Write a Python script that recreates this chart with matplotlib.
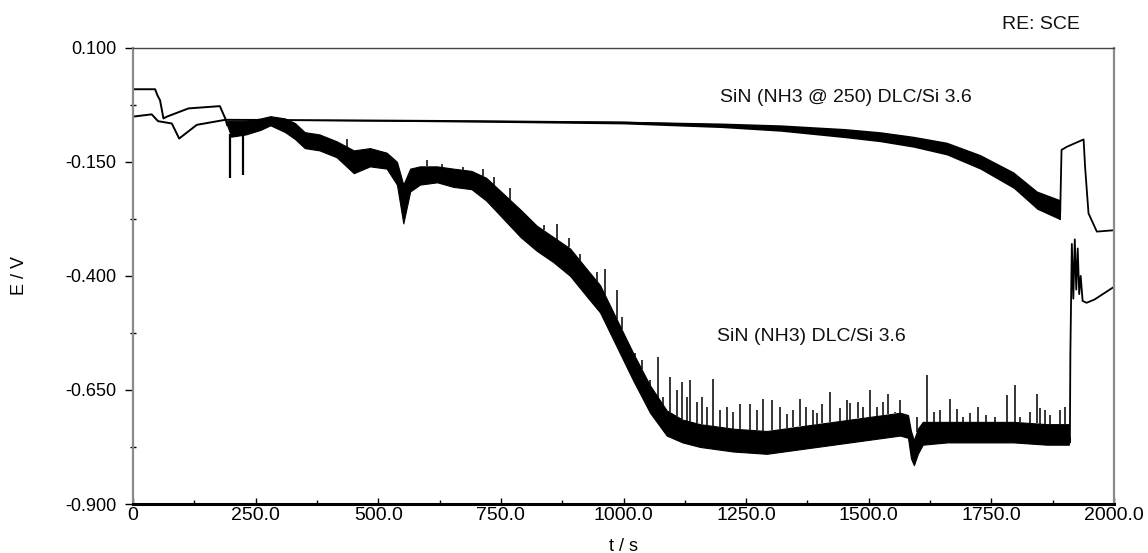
import numpy as np
import matplotlib
matplotlib.use("Agg")
import matplotlib.pyplot as plt

# ---------------- data ----------------
# Series "SiN (NH3 @ 250) DLC/Si 3.6" : centre line and half-width of its noise band
s250_t    = [0, 38, 51, 79, 94, 130, 188, 400, 700, 1000, 1200, 1320, 1450, 1523, 1591, 1659, 1727, 1795, 1843, 1890]
s250_mid  = [-0.051, -0.046, -0.061, -0.066, -0.099, -0.069, -0.058, -0.059, -0.061, -0.064, -0.070, -0.076,
             -0.087, -0.095, -0.106, -0.121, -0.150, -0.190, -0.234, -0.255]
s250_half = [0.0, 0.0, 0.0, 0.0, 0.0, 0.0, 0.0, 0.001, 0.002, 0.003, 0.005, 0.007,
             0.010, 0.011, 0.012, 0.014, 0.016, 0.018, 0.020, 0.022]
# recovery at the end of the run
s250_tail_t = [1890, 1893, 1904, 1938, 1941, 1948, 1965, 2000]
s250_tail_v = [-0.275, -0.124, -0.117, -0.101, -0.161, -0.263, -0.303, -0.300]

# Series "SiN (NH3) DLC/Si 3.6"
nh3_head_t = [0, 45, 50, 55, 62, 69, 113, 177, 188, 192]
nh3_head_v = [0.009, 0.009, -0.005, -0.015, -0.055, -0.051, -0.033, -0.028, -0.055, -0.070]
# dense noise band (bottom / top)
nh3_t  = [192, 200, 230, 260, 280, 310, 330, 350, 380, 415, 450, 483, 517, 538, 551, 565, 585, 620, 653,
          690, 720, 755, 790, 823, 857, 891, 925, 952, 986, 1020, 1054, 1088, 1120, 1156, 1224, 1292,
          1360, 1428, 1496, 1564, 1580, 1586, 1592, 1600, 1610, 1660, 1727, 1795, 1863, 1908]
nh3_hi = [-0.060, -0.060, -0.060, -0.055, -0.050, -0.055, -0.065, -0.085, -0.090, -0.105, -0.125, -0.120,
          -0.130, -0.150, -0.200, -0.165, -0.160, -0.160, -0.165, -0.170, -0.185, -0.220, -0.255, -0.290,
          -0.315, -0.340, -0.385, -0.420, -0.495, -0.570, -0.640, -0.695, -0.715, -0.725, -0.735, -0.740,
          -0.730, -0.720, -0.710, -0.700, -0.705, -0.740, -0.760, -0.735, -0.720, -0.720, -0.720, -0.720,
          -0.725, -0.725]
nh3_lo = [-0.070, -0.095, -0.090, -0.080, -0.070, -0.085, -0.100, -0.120, -0.125, -0.140, -0.175, -0.160,
          -0.165, -0.200, -0.285, -0.215, -0.200, -0.195, -0.205, -0.210, -0.235, -0.275, -0.315, -0.345,
          -0.370, -0.400, -0.445, -0.480, -0.555, -0.630, -0.700, -0.750, -0.765, -0.775, -0.785, -0.790,
          -0.780, -0.770, -0.760, -0.750, -0.755, -0.800, -0.815, -0.790, -0.770, -0.765, -0.765, -0.765,
          -0.770, -0.770]
# upward spikes above the band (time, top value)
nh3_spike_t = [436, 476, 514, 599, 629, 673, 713, 735, 769, 837, 865, 888, 911, 945, 962, 986, 996, 1010,
               1023, 1037, 1054, 1071, 1081, 1095, 1108, 1119, 1129, 1136, 1149, 1159, 1170, 1183, 1197,
               1210, 1224, 1237, 1258, 1272, 1285, 1302, 1319, 1333, 1346, 1360, 1373, 1387, 1394, 1404,
               1421, 1441, 1455, 1462, 1479, 1489, 1503, 1516, 1530, 1540, 1553, 1564, 1598, 1618, 1632,
               1645, 1666, 1679, 1693, 1706, 1723, 1740, 1757, 1781, 1798, 1808, 1829, 1842, 1849, 1859,
               1870, 1890, 1900]
nh3_spike_v = [-0.099, -0.121, -0.128, -0.146, -0.154, -0.161, -0.165, -0.183, -0.208, -0.289, -0.287,
               -0.318, -0.351, -0.391, -0.384, -0.431, -0.490, -0.556, -0.570, -0.585, -0.628, -0.578,
               -0.665, -0.621, -0.650, -0.632, -0.665, -0.629, -0.676, -0.665, -0.687, -0.625, -0.694,
               -0.687, -0.698, -0.680, -0.680, -0.694, -0.669, -0.673, -0.687, -0.702, -0.694, -0.669,
               -0.687, -0.695, -0.701, -0.680, -0.654, -0.690, -0.673, -0.679, -0.676, -0.687, -0.651,
               -0.687, -0.676, -0.658, -0.698, -0.673, -0.709, -0.618, -0.698, -0.694, -0.669, -0.691,
               -0.709, -0.701, -0.687, -0.705, -0.709, -0.662, -0.640, -0.709, -0.698, -0.658, -0.690,
               -0.695, -0.705, -0.694, -0.687]
# downward spikes (time, bottom value)
nh3_dspike_t = [198, 224]
nh3_dspike_v = [-0.186, -0.178]
# jump and tail at the end
nh3_tail_t = [1908, 1910, 1911, 1914, 1917, 1920, 1923, 1926, 1929, 1932, 1936, 1944, 1960, 1980, 2000]
nh3_tail_v = [-0.750, -0.765, -0.570, -0.330, -0.450, -0.320, -0.430, -0.340, -0.440, -0.400, -0.455,
              -0.459, -0.452, -0.438, -0.424]

x_ticks = [0, 250, 500, 750, 1000, 1250, 1500, 1750, 2000]
x_tick_labels = ["0", "250.0", "500.0", "750.0", "1000.0", "1250.0", "1500.0", "1750.0", "2000.0"]
y_ticks = [0.100, -0.150, -0.400, -0.650, -0.900]
y_tick_labels = ["0.100", "-0.150", "-0.400", "-0.650", "-0.900"]

label_250 = "SiN (NH3 @ 250) DLC/Si 3.6"
label_nh3 = "SiN (NH3) DLC/Si 3.6"

# ---------------- drawing ----------------
FONT = ["Liberation Sans", "DejaVu Sans"]
plt.rcParams["font.family"] = FONT

fig = plt.figure(figsize=(11.48, 5.53), dpi=100)
ax = fig.add_axes([0.1159, 0.0886, 0.8545, 0.8251])

# upper series
mid = np.array(s250_mid)
half = np.array(s250_half)
ax.fill_between(s250_t, mid - half, mid + half, color="black", lw=0)
ax.plot(s250_t, s250_mid, color="black", lw=1.4)
ax.plot(s250_tail_t, s250_tail_v, color="black", lw=1.3)

# lower series
ax.plot(nh3_head_t, nh3_head_v, color="black", lw=1.4)
ax.fill_between(nh3_t, nh3_lo, nh3_hi, color="black", lw=0.8, edgecolor="black")
base_hi = np.interp(nh3_spike_t, nh3_t, nh3_hi)
ax.vlines(nh3_spike_t, base_hi, nh3_spike_v, color="black", lw=1.1)
base_lo = np.interp(nh3_dspike_t, nh3_t, nh3_lo)
ax.vlines(nh3_dspike_t, nh3_dspike_v, base_lo, color="black", lw=1.6)
ax.plot(nh3_tail_t, nh3_tail_v, color="black", lw=1.3)

# text labels
ax.text(1197, -0.008, label_250, fontsize=14, va="center", ha="left", color="#111111")
ax.text(1190, -0.532, label_nh3, fontsize=14, va="center", ha="left", color="#111111")
fig.text(0.9408, 0.9548, "RE: SCE", fontsize=14, va="center", ha="right", color="#111111")

# axes
ax.set_xlim(0, 2000)
ax.set_ylim(-0.900, 0.100)
ax.set_xticks(x_ticks)
ax.set_xticklabels(x_tick_labels, fontsize=14)
ax.set_yticks(y_ticks)
ax.set_yticklabels(y_tick_labels, fontsize=13)
ax.set_xticks([125 + 250 * i for i in range(8)], minor=True)
ax.set_yticks([-0.025, -0.275, -0.525, -0.775], minor=True)
ax.tick_params(axis="x", which="major", direction="in", length=4, pad=2, width=1)
ax.tick_params(axis="x", which="minor", direction="in", length=3, width=1)
ax.tick_params(axis="y", which="major", direction="out", length=6, pad=6, width=1)
ax.tick_params(axis="y", which="minor", direction="inout", length=4, width=1)

ax.set_xlabel("t / s", fontsize=13)
ax.set_ylabel("E / V", fontsize=13)
ax.xaxis.set_label_coords(0.5, -0.075)
ax.yaxis.set_label_coords(-0.107, 0.5)

ax.spines["top"].set_color("#444444")
ax.spines["top"].set_linewidth(1.0)
for s in ("left", "right"):
    ax.spines[s].set_color("#8a8a8a")
    ax.spines[s].set_linewidth(1.6)
ax.spines["bottom"].set_color("black")
ax.spines["bottom"].set_linewidth(2.2)

fig.savefig("out.png", dpi=100)
